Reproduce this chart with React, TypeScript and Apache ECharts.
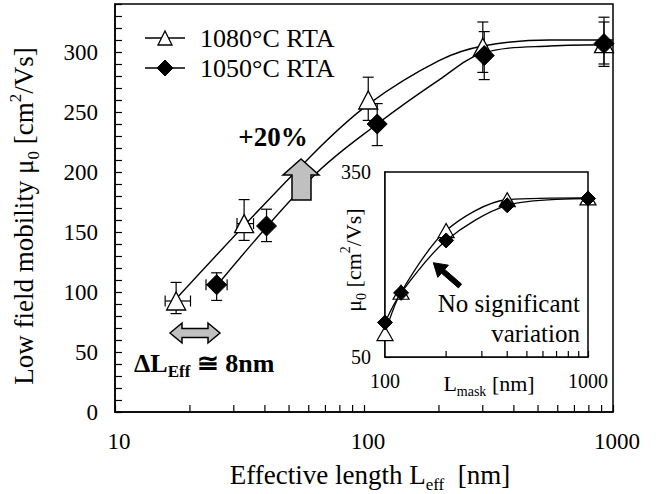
import React, { useEffect, useRef } from "react";
import * as echarts from "echarts";

// ---- main plot data (effective length, nm / mobility, cm2/Vs) ----
const leff1080 = [17.6, 33, 104, 300, 920];
const mu1080 = [92.5, 157, 260, 304, 307];
const lo1080 = [82, 143, 243, 283, 290];
const hi1080 = [108, 177, 279, 325, 329];
const xlo1080 = [15.9, 30.9, 0, 0, 0];
const xhi1080 = [20.1, 36.0, 0, 0, 0];

const leff1050 = [25.6, 40.6, 113, 304, 920];
const mu1050 = [106, 155, 240, 297, 307];
const lo1050 = [93, 142, 222, 277, 288];
const hi1050 = [116, 169, 257, 317, 325];
const xlo1050 = [23.2, 0, 0, 0, 0];
const xhi1050 = [28.2, 0, 0, 0, 0];

// fitted curves
const fit1080X = [17.9, 61, 105, 201, 300, 557, 1000];
const fit1080Y = [96, 213, 257, 293, 305, 310, 310];
const fit1050X = [25.8, 63, 113, 201, 300, 557, 1000];
const fit1050Y = [106, 197, 240, 277, 299, 305, 306];

// ---- inset data (mask length, nm) ----
const lmask = [100, 120, 200, 400, 1000];
const muIn1080 = [88, 155, 255, 305, 308];
const muIn1050 = [106, 154, 239, 296, 307];

// tick values
const mainMinorTicks = [20, 30, 40, 50, 60, 70, 80, 90, 200, 300, 400, 500, 600, 700, 800, 900];
const insetMinorTicks = [200, 300, 400, 500, 600, 700, 800, 900];
const mainYLabels = [0, 50, 100, 150, 200, 250, 300];
const insetYLabels = [50, 350];

const FONT = "Liberation Serif";

function zip(a: number[], b: number[]) {
  return a.map((v, i) => [v, b[i]]);
}

function errorBarSeries(xs: number[], ys: number[], lo: number[], hi: number[], xl: number[], xh: number[]) {
  const data = xs.map((x, i) => [x, ys[i], lo[i], hi[i], xl[i], xh[i]]);
  return {
    type: "custom",
    xAxisIndex: 0,
    yAxisIndex: 0,
    z: 3,
    clip: false,
    dimensions: ["x", "y", "lo", "hi", "xl", "xh"],
    encode: { x: 0, y: 1 },
    data,
    renderItem: (params: any, api: any) => {
      const x = api.value(0);
      const y = api.value(1);
      const lo = api.value(2);
      const hi = api.value(3);
      const xl = api.value(4);
      const xh = api.value(5);
      const st = { stroke: "#000", lineWidth: 1.2 };
      const cap = 5.5;
      const pL = api.coord([x, lo]);
      const pH = api.coord([x, hi]);
      const children: any[] = [
        { type: "line", shape: { x1: pL[0], y1: pL[1], x2: pH[0], y2: pH[1] }, style: st },
        { type: "line", shape: { x1: pL[0] - cap, y1: pL[1], x2: pL[0] + cap, y2: pL[1] }, style: st },
        { type: "line", shape: { x1: pH[0] - cap, y1: pH[1], x2: pH[0] + cap, y2: pH[1] }, style: st },
      ];
      if (xl > 0 && xh > 0) {
        const a = api.coord([xl, y]);
        const b = api.coord([xh, y]);
        children.push(
          { type: "line", shape: { x1: a[0], y1: a[1], x2: b[0], y2: b[1] }, style: st },
          { type: "line", shape: { x1: a[0], y1: a[1] - cap, x2: a[0], y2: a[1] + cap }, style: st },
          { type: "line", shape: { x1: b[0], y1: b[1] - cap, x2: b[0], y2: b[1] + cap }, style: st }
        );
      }
      return { type: "group", children };
    },
  };
}

function minorTickSeries(ticks: number[], yBase: number, axisIdx: number, len: number) {
  return {
    type: "custom",
    xAxisIndex: axisIdx,
    yAxisIndex: axisIdx,
    clip: false,
    silent: true,
    z: 5,
    data: ticks.map((t) => [t, yBase]),
    encode: { x: 0, y: 1 },
    renderItem: (params: any, api: any) => {
      const p = api.coord([api.value(0), api.value(1)]);
      return {
        type: "line",
        shape: { x1: p[0], y1: p[1], x2: p[0], y2: p[1] - len },
        style: { stroke: "#000", lineWidth: 1.2 },
      };
    },
  };
}

const lineStyle = { color: "#000", width: 1.4 };

export default function App() {
  const ref = useRef<HTMLDivElement>(null);
  useEffect(() => {
    if (!ref.current) return;
    const chart = echarts.init(ref.current, undefined, { renderer: "svg" });

    const subRich = (size: number) => ({
      a: { fontSize: size, fontFamily: FONT, color: "#000", lineHeight: size + 8 },
      s: { fontSize: Math.round(size * 0.62), fontFamily: FONT, color: "#000", verticalAlign: "bottom", lineHeight: Math.round(size * 0.7) },
      p: { fontSize: Math.round(size * 0.62), fontFamily: FONT, color: "#000", verticalAlign: "top", lineHeight: Math.round(size * 0.7) },
    });
    const boldRich = (size: number) => ({
      a: { fontSize: size, fontFamily: FONT, fontWeight: "bold", color: "#000", lineHeight: size + 8 },
      s: { fontSize: Math.round(size * 0.65), fontFamily: FONT, fontWeight: "bold", color: "#000", verticalAlign: "bottom", lineHeight: Math.round(size * 0.7) },
    });
    const plain = (text: string, size: number, extra: any = {}) => ({
      text,
      font: `${extra.fontWeight || "normal"} ${size}px ${FONT}`,
      fontSize: size,
      fontFamily: FONT,
      fill: "#000",
      ...extra,
    });

    const option: any = {
      animation: false,
      backgroundColor: "#fff",
      textStyle: { fontFamily: FONT },
      grid: [
        { left: 115, top: 4, width: 498, height: 408, show: true, borderColor: "#000", borderWidth: 1.5, backgroundColor: "transparent" },
        { left: 385, top: 172, width: 203, height: 185, show: true, borderColor: "#000", borderWidth: 1.5, backgroundColor: "#fff", z: 1 },
      ],
      xAxis: [
        {
          type: "log",
          logBase: 10,
          min: 10,
          max: 1000,
          gridIndex: 0,
          axisLine: { show: true, lineStyle: { color: "#000", width: 1.5 } },
          axisTick: { show: true, inside: true, length: 7, lineStyle: { color: "#000", width: 1.2 } },
          splitLine: { show: false },
          minorTick: { show: false },
          axisLabel: { fontSize: 23, fontFamily: FONT, color: "#000", margin: 18, padding: [0, 0, 0, 8], formatter: (v: number) => String(Math.round(v)) },
        },
        {
          type: "log",
          logBase: 10,
          min: 100,
          max: 1000,
          gridIndex: 1,
          axisLine: { show: true, lineStyle: { color: "#000", width: 1.5 } },
          axisTick: { show: true, inside: true, length: 6, lineStyle: { color: "#000", width: 1.2 } },
          splitLine: { show: false },
          axisLabel: { fontSize: 20, fontFamily: FONT, color: "#000", margin: 14, formatter: (v: number) => String(Math.round(v)) },
        },
      ],
      yAxis: [
        {
          type: "value",
          min: 0,
          max: 340,
          interval: 10,
          gridIndex: 0,
          axisLine: { show: true, lineStyle: { color: "#000", width: 1.5 } },
          axisTick: { show: true, inside: true, length: 7, lineStyle: { color: "#000", width: 1.2 } },
          splitLine: { show: false },
          axisLabel: {
            fontSize: 23,
            fontFamily: FONT,
            color: "#000",
            margin: 17,
            formatter: (v: number) => (mainYLabels.indexOf(v) >= 0 ? String(v) : ""),
          },
        },
        {
          type: "value",
          min: 50,
          max: 350,
          interval: 20,
          gridIndex: 1,
          axisLine: { show: true, lineStyle: { color: "#000", width: 1.5 } },
          axisTick: { show: true, inside: true, length: 6, lineStyle: { color: "#000", width: 1.2 } },
          splitLine: { show: false },
          axisLabel: {
            fontSize: 20,
            fontFamily: FONT,
            color: "#000",
            margin: 14,
            formatter: (v: number) => (insetYLabels.indexOf(v) >= 0 ? String(v) : ""),
          },
        },
      ],
      series: [
        {
          type: "line",
          name: "fit 1080",
          xAxisIndex: 0,
          yAxisIndex: 0,
          data: zip(fit1080X, fit1080Y),
          smooth: 0.35,
          symbol: "none",
          lineStyle,
          z: 2,
        },
        {
          type: "line",
          name: "fit 1050",
          xAxisIndex: 0,
          yAxisIndex: 0,
          data: zip(fit1050X, fit1050Y),
          smooth: 0.35,
          symbol: "none",
          lineStyle,
          z: 2,
        },
        errorBarSeries(leff1080, mu1080, lo1080, hi1080, xlo1080, xhi1080),
        errorBarSeries(leff1050, mu1050, lo1050, hi1050, xlo1050, xhi1050),
        {
          type: "scatter",
          name: "1080°C RTA",
          xAxisIndex: 0,
          yAxisIndex: 0,
          data: zip(leff1080, mu1080),
          symbol: "triangle",
          symbolSize: [19, 18],
          itemStyle: { color: "#fff", borderColor: "#000", borderWidth: 1.3, opacity: 1 },
          clip: false,
          z: 4,
        },
        {
          type: "scatter",
          name: "1050°C RTA",
          xAxisIndex: 0,
          yAxisIndex: 0,
          data: zip(leff1050, mu1050),
          symbol: "diamond",
          symbolSize: 20,
          itemStyle: { color: "#000", borderColor: "#000", borderWidth: 1, opacity: 1 },
          clip: false,
          z: 4,
        },
        minorTickSeries(mainMinorTicks, 0, 0, 7),
        {
          type: "line",
          name: "inset 1080",
          xAxisIndex: 1,
          yAxisIndex: 1,
          data: zip(lmask, muIn1080),
          smooth: 0.3,
          symbol: "triangle",
          symbolSize: [16, 14],
          showAllSymbol: true,
          itemStyle: { color: "#fff", borderColor: "#000", borderWidth: 1.2 },
          lineStyle: { color: "#000", width: 1.3 },
          clip: false,
          z: 6,
        },
        {
          type: "line",
          name: "inset 1050",
          xAxisIndex: 1,
          yAxisIndex: 1,
          data: zip(lmask, muIn1050),
          smooth: 0.3,
          symbol: "diamond",
          symbolSize: 15,
          showAllSymbol: true,
          itemStyle: { color: "#000", borderColor: "#000", borderWidth: 1 },
          lineStyle: { color: "#000", width: 1.3 },
          clip: false,
          z: 7,
        },
        minorTickSeries(insetMinorTicks, 50, 1, 6),
      ],
      graphic: [
        // legend
        { type: "line", shape: { x1: 145, y1: 38, x2: 185, y2: 38 }, style: { stroke: "#000", lineWidth: 1.5 }, z: 10 },
        { type: "polygon", shape: { points: [[165, 31], [172, 45], [158, 45]] }, style: { fill: "#fff", stroke: "#000", lineWidth: 1.3 }, z: 11 },
        { type: "text", x: 200, y: 38, style: plain("1080°C RTA", 26, { align: "left", verticalAlign: "middle" }), z: 11 },
        { type: "line", shape: { x1: 145, y1: 68, x2: 185, y2: 68 }, style: { stroke: "#000", lineWidth: 1.5 }, z: 10 },
        { type: "polygon", shape: { points: [[165, 60], [173, 68], [165, 76], [157, 68]] }, style: { fill: "#000", stroke: "#000", lineWidth: 1 }, z: 11 },
        { type: "text", x: 200, y: 68, style: plain("1050°C RTA", 26, { align: "left", verticalAlign: "middle" }), z: 11 },
        // axis titles
        {
          type: "text",
          x: 24,
          y: 216,
          rotation: Math.PI / 2,
          style: {
            text: "{a|Low field mobility μ}{s|0}{a| [cm}{p|2}{a|/Vs]}",
            rich: subRich(27),
            align: "center",
            verticalAlign: "middle",
          },
          z: 11,
        },
        {
          type: "text",
          x: 370,
          y: 475,
          style: {
            text: "{a|Effective length L}{s|eff}{a|  [nm]}",
            rich: subRich(27),
            align: "center",
            verticalAlign: "middle",
          },
          z: 11,
        },
        // inset titles
        {
          type: "text",
          x: 353,
          y: 260,
          rotation: Math.PI / 2,
          style: {
            text: "{a|μ}{s|0}{a| [cm}{p|2}{a|/Vs]}",
            rich: subRich(22),
            align: "center",
            verticalAlign: "middle",
          },
          z: 11,
        },
        {
          type: "text",
          x: 489,
          y: 383,
          style: {
            text: "{a|L}{s|mask}{a| [nm]}",
            rich: subRich(22),
            align: "center",
            verticalAlign: "middle",
          },
          z: 11,
        },
        // inset annotation
        { type: "text", x: 580, y: 303, style: plain("No significant", 25, { align: "right", verticalAlign: "middle" }), z: 11 },
        { type: "text", x: 580, y: 333, style: plain("variation", 25, { align: "right", verticalAlign: "middle" }), z: 11 },
        {
          type: "polygon",
          shape: { points: [[433.3, 262.7], [448.4, 265.2], [444.7, 269.4], [461.6, 284.1], [458.4, 287.9], [441.5, 273.2], [437.8, 277.3]] },
          style: { fill: "#000", stroke: "#000", lineWidth: 1 },
          z: 11,
        },
        // +20% annotation
        { type: "text", x: 273, y: 137, style: plain("+20%", 27, { fontWeight: "bold", align: "center", verticalAlign: "middle" }), z: 11 },
        {
          type: "polygon",
          shape: { points: [[301, 159], [319, 175], [311, 175], [311, 200], [292, 200], [292, 175], [283, 175]] },
          style: { fill: "#c0c0c0", stroke: "#000", lineWidth: 1.5 },
          z: 11,
        },
        // delta L annotation
        {
          type: "polygon",
          shape: { points: [[170, 333], [182, 323], [182, 328.5], [208, 328.5], [208, 323], [220, 333], [208, 343], [208, 337.5], [182, 337.5], [182, 343]] },
          style: { fill: "#c0c0c0", stroke: "#000", lineWidth: 1.5 },
          z: 11,
        },
        {
          type: "text",
          x: 134,
          y: 363,
          style: {
            text: "{a|ΔL}{s|Eff}{a| ≅ 8nm}",
            rich: boldRich(26),
            align: "left",
            verticalAlign: "middle",
          },
          z: 11,
        },
      ],
    };
    chart.setOption(option);
    return () => chart.dispose();
  }, []);
  return <div ref={ref} style={{ position: "absolute", left: 0, top: 0, width: 667, height: 494, background: "#fff" }} />;
}
